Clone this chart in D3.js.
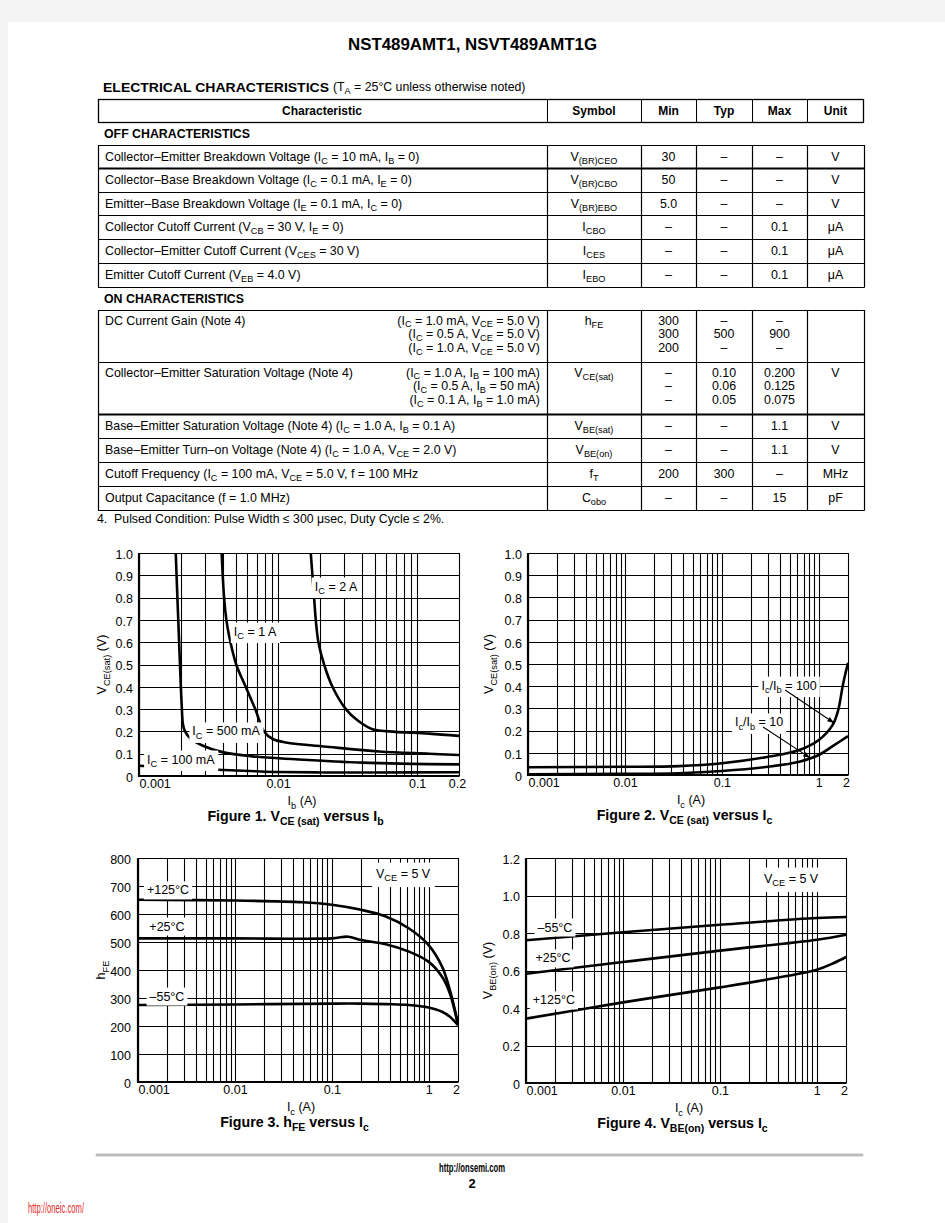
<!DOCTYPE html>
<html><head><meta charset="utf-8">
<script src="https://cdn.jsdelivr.net/npm/d3@7"></script>
<style>
html,body{margin:0;padding:0;background:#f3f3f3;}
svg{display:block;}
text{font-family:"Liberation Sans",Arial,Helvetica,sans-serif;white-space:pre;fill:#000;}
</style></head><body>
<svg id="page" width="945" height="1223"></svg>
<script>
// ---------------- TABLE DATA ----------------
const offChar = [
 "Collector–Emitter Breakdown Voltage (I_{C} = 10 mA, I_{B} = 0)",
 "Collector–Base Breakdown Voltage (I_{C} = 0.1 mA, I_{E} = 0)",
 "Emitter–Base Breakdown Voltage (I_{E} = 0.1 mA, I_{C} = 0)",
 "Collector Cutoff Current (V_{CB} = 30 V, I_{E} = 0)",
 "Collector–Emitter Cutoff Current (V_{CES} = 30 V)",
 "Emitter Cutoff Current (V_{EB} = 4.0 V)"];
const offSym = ["V_{(BR)CEO}","V_{(BR)CBO}","V_{(BR)EBO}","I_{CBO}","I_{CES}","I_{EBO}"];
const offMin = ["30","50","5.0","–","–","–"];
const offTyp = ["–","–","–","–","–","–"];
const offMax = ["–","–","–","0.1","0.1","0.1"];
const offUnit = ["V","V","V","μA","μA","μA"];

const onChar = ["DC Current Gain (Note 4)","Collector–Emitter Saturation Voltage (Note 4)",
 "Base–Emitter Saturation Voltage (Note 4) (I_{C} = 1.0 A, I_{B} = 0.1 A)",
 "Base–Emitter Turn–on Voltage (Note 4) (I_{C} = 1.0 A, V_{CE} = 2.0 V)",
 "Cutoff Frequency (I_{C} = 100 mA, V_{CE} = 5.0 V, f = 100 MHz",
 "Output Capacitance (f = 1.0 MHz)"];
const onCond = [["(I_{C} = 1.0 mA, V_{CE} = 5.0 V)","(I_{C} = 0.5 A, V_{CE} = 5.0 V)","(I_{C} = 1.0 A, V_{CE} = 5.0 V)"],
 ["(I_{C} = 1.0 A, I_{B} = 100 mA)","(I_{C} = 0.5 A, I_{B} = 50 mA)","(I_{C} = 0.1 A, I_{B} = 1.0 mA)"],[],[],[],[]];
const onSym = ["h_{FE}","V_{CE(sat)}","V_{BE(sat)}","V_{BE(on)}","f_{T}","C_{obo}"];
const onMin = [["300","300","200"],["–","–","–"],["–"],["–"],["200"],["–"]];
const onTyp = [["–","500","–"],["0.10","0.06","0.05"],["–"],["–"],["300"],["–"]];
const onMax = [["–","900","–"],["0.200","0.125","0.075"],["1.1"],["1.1"],["–"],["15"]];
const onUnit = [[""],["V"],["V"],["V"],["MHz"],["pF"]];

// ---------------- FIGURE 1 DATA: VCE(sat) vs Ib ----------------
const f1Labels = ["0.001","0.01","0.1","0.2"];
const f1YTicks = [0,0.1,0.2,0.3,0.4,0.5,0.6,0.7,0.8,0.9,1.0];
const f1Ib_2A   = [0.01718,0.01766,0.01816,0.01867,0.0195,0.02143,0.0246,0.0307,0.0372,0.0477,0.0629,0.122,0.2];
const f1V_2A    = [1.0,0.9,0.8,0.7,0.6,0.5,0.4,0.3,0.25,0.21,0.2,0.19,0.18];
const f1Ib_1A   = [0.00393,0.00409,0.00425,0.00444,0.00500,0.00585,0.00685,0.00793,0.0091,0.01135,0.0233,0.0533,0.122,0.2];
const f1V_1A    = [1.0,0.8,0.7,0.63,0.5,0.4,0.3,0.2,0.167,0.15,0.13,0.11,0.1,0.094];
const f1Ib_500  = [0.001837,0.00194,0.002027,0.002073,0.002142,0.002353,0.002855,0.003977,0.006537,0.0134,0.0404,0.2];
const f1V_500   = [1.0,0.61,0.32,0.23,0.2,0.167,0.137,0.107,0.088,0.075,0.06,0.052];
const f1Ib_100  = [0.001,0.002,0.004,0.007,0.01,0.02,0.05,0.2];
const f1V_100   = [0.046,0.036,0.027,0.021,0.018,0.016,0.016,0.017];

// ---------------- FIGURE 2 DATA: VCE(sat) vs Ic ----------------
const f2Labels = ["0.001","0.01","0.1","1","2"];
const f2YTicks = f1YTicks;
const f2Ic_100 = [0.001,0.01,0.036,0.1,0.31,0.63,1.0,1.39,1.58,1.78,2.0];
const f2V_100  = [0.035,0.037,0.04,0.053,0.083,0.113,0.158,0.226,0.29,0.41,0.505];
const f2Ic_10  = [0.001,0.01,0.036,0.1,0.31,0.63,1.0,1.39,2.0];
const f2V_10   = [0.003,0.005,0.008,0.018,0.038,0.06,0.09,0.13,0.175];

// ---------------- FIGURE 3 DATA: hFE vs Ic ----------------
const f3Labels = ["0.001","0.01","0.1","1","2"];
const f3YTicks = [0,100,200,300,400,500,600,700,800];
const f3Ic_125 = [0.001,0.01,0.05,0.1,0.2,0.36,0.62,0.99,1.37,1.65,2.0];
const f3H_125  = [651,648,642,633,615,591,549,490,412,328,209];
const f3Ic_25  = [0.001,0.01,0.1,0.147,0.2,0.36,0.62,0.99,1.37,1.65,2.0];
const f3H_25   = [513,513,513,519,507,492,466,430,376,316,203];
const f3Ic_m55 = [0.001,0.01,0.1,0.2,0.36,0.62,0.99,1.37,1.65,2.0];
const f3H_m55  = [275,277,280,280,278,275,266,251,233,203];

// ---------------- FIGURE 4 DATA: VBE(on) vs Ic ----------------
const f4Labels = ["0.001","0.01","0.1","1","2"];
const f4YTicks = [0,0.2,0.4,0.6,0.8,1.0,1.2];
const f4Ic_m55 = [0.001,0.01,0.1,1,2];
const f4V_m55  = [0.761,0.804,0.844,0.88,0.885];
const f4Ic_25  = [0.001,0.01,0.1,1,2];
const f4V_25   = [0.583,0.645,0.706,0.764,0.791];
const f4Ic_125 = [0.001,0.01,0.1,0.3,1,1.5,2];
const f4V_125  = [0.343,0.43,0.51,0.551,0.604,0.64,0.672];

// ---------------- HELPERS ----------------
const svg = d3.select('#page');
svg.append('rect').attr('x',8).attr('y',22).attr('width',937).attr('height',1201).attr('fill','#fff');
svg.append('defs').append('marker').attr('id','arr').attr('viewBox','0 0 10 10')
  .attr('refX',10).attr('refY',5).attr('markerWidth',7).attr('markerHeight',7)
  .attr('markerUnits','userSpaceOnUse').attr('orient','auto')
  .append('path').attr('d','M0,1.5 L10,5 L0,8.5 Z').attr('fill','#000');

// multi-line rich text in ONE text element; "_{..}" marks a subscript
function richLines(g,x,y,lines,size,anchor,weight,lh,subShift){
  const sh = (subShift||0.28)*size;
  const t = g.append('text').attr('font-size',size).attr('text-anchor',anchor||'start')
    .attr('font-weight',weight||'normal');
  lines.forEach((ln,j)=>{
    const parts = String(ln).split(/(_\{[^}]*\})/).filter(p=>p!=='');
    let sub=false;
    parts.forEach((p,k)=>{
      const s = t.append('tspan');
      if(k===0) s.attr('x',x).attr('y',y+j*(lh||0));
      if(p.startsWith('_{')){ s.attr('font-size',size*0.74).attr('dy',sh).text(p.slice(2,-1)); sub=true; }
      else { s.text(p); if(sub){ s.attr('dy',-sh); sub=false; } }
    });
  });
  return t;
}
function txt(g,x,y,str,size,anchor,weight){ return richLines(g,x,y,[str],size,anchor,weight,0); }
function hline(g,x1,x2,y,w){ g.append('line').attr('x1',x1).attr('x2',x2).attr('y1',y).attr('y2',y).attr('stroke','#000').attr('stroke-width',w||1); }
function vline(g,x,y1,y2,w){ g.append('line').attr('x1',x).attr('x2',x).attr('y1',y1).attr('y2',y2).attr('stroke','#000').attr('stroke-width',w||1); }

// ---------------- HEADER ----------------
svg.append('text').attr('x',472.5).attr('y',50).attr('text-anchor','middle').attr('font-size',16)
  .attr('font-weight','bold').attr('textLength',249).attr('lengthAdjust','spacingAndGlyphs').text('NST489AMT1, NSVT489AMT1G');
svg.append('text').attr('x',103).attr('y',92).attr('font-size',13).attr('font-weight','bold')
  .attr('textLength',226).attr('lengthAdjust','spacingAndGlyphs').text('ELECTRICAL CHARACTERISTICS');
txt(svg,333,91,'(T_{A} = 25°C unless otherwise noted)',12.3);

// ---------------- TABLE ----------------
const T = svg.append('g');
const colX = [98,547,641,696,752,807,864];
const colC = [0,594,668.5,724,779.5,835.5];
const FS = 12.4, LH = 13.8;
T.append('rect').attr('x',98.5).attr('y',99.5).attr('width',765).attr('height',23).attr('fill','none').attr('stroke','#000').attr('stroke-width',1.3);
colX.slice(1,6).forEach(x=>vline(T,x+0.5,99.5,122.5));
['Characteristic','Symbol','Min','Typ','Max','Unit'].forEach((h,i)=>{
  txt(T, i===0?322:colC[i], 114.5, h, 12, 'middle','bold');
});
T.append('text').attr('x',104).attr('y',138).attr('font-size',12).attr('font-weight','bold')
  .attr('textLength',146).attr('lengthAdjust','spacingAndGlyphs').text('OFF CHARACTERISTICS');
const offEdges = [145,168,192,215,239,263,287];
offChar.forEach((c,i)=>{
  const yc = (offEdges[i]+offEdges[i+1])/2 + 4;
  txt(T,105,yc,c,FS);
  txt(T,colC[1],yc,offSym[i],FS,'middle');
  txt(T,colC[2],yc,offMin[i],FS,'middle');
  txt(T,colC[3],yc,offTyp[i],FS,'middle');
  txt(T,colC[4],yc,offMax[i],FS,'middle');
  txt(T,colC[5],yc,offUnit[i],FS,'middle');
});
offEdges.forEach((y,i)=>hline(T,98,864.5,y+0.5,i===1?2:1.2));
colX.forEach(x=>vline(T,x+0.5,145,287.5,1.2));

T.append('text').attr('x',104).attr('y',303).attr('font-size',12).attr('font-weight','bold')
  .attr('textLength',140).attr('lengthAdjust','spacingAndGlyphs').text('ON CHARACTERISTICS');
const onEdges = [310,362,414,438,462,486,510];
onChar.forEach((c,i)=>{
  const y0 = onEdges[i], y1 = onEdges[i+1];
  const multi = onCond[i].length>0;
  const first = multi ? y0+14.5 : (y0+y1)/2+4;
  txt(T,105,first,c,FS);
  if(multi) richLines(T,540,first,onCond[i],FS,'end','normal',LH,0.2);
  txt(T,colC[1],first,onSym[i],FS,'middle');
  [onMin,onTyp,onMax,onUnit].forEach((arr,k)=>{
    richLines(T,colC[k+2],first,arr[i],FS,'middle','normal',LH);
  });
});
onEdges.forEach((y,i)=>hline(T,98,864.5,y+0.5,i===2?2:1.2));
colX.forEach(x=>vline(T,x+0.5,310,510.5,1.2));
txt(svg,97,523,'4.  Pulsed Condition: Pulse Width ≤ 300 μsec, Duty Cycle ≤ 2%.',12.3);

// ---------------- CHARTS ----------------
function logGrid(lo,hi){
  const out=[];
  for(let k=Math.floor(Math.log10(lo)); k<=Math.ceil(Math.log10(hi)); k++){
    for(let i=1;i<=9;i++){ const v=+(i*Math.pow(10,k)).toPrecision(6); if(v>=lo*0.9999 && v<=hi*1.0001) out.push(v); }
  }
  return out;
}
function drawChart(c){
  const g = svg.append('g');
  const x = d3.scaleLog().domain(c.xDomain).range([c.left,c.right]);
  const y = d3.scaleLinear().domain(c.yDomain).range([c.bottom,c.top]);
  const xr = x.copy().interpolate(d3.interpolateRound);
  const yr = y.copy().interpolate(d3.interpolateRound);
  const H = c.bottom-c.top, W = c.right-c.left;
  g.append('g').attr('transform',`translate(0,${c.bottom})`)
    .call(d3.axisBottom(xr).tickValues(logGrid(c.xDomain[0],c.xDomain[1])).tickSize(-H).tickFormat(''))
    .call(a=>{a.select('.domain').remove(); a.selectAll('line').attr('stroke','#000').attr('stroke-width',1.1);});
  g.append('g').attr('transform',`translate(${c.left},0)`)
    .call(d3.axisLeft(yr).tickValues(c.yTicks).tickSize(-W).tickFormat(''))
    .call(a=>{a.select('.domain').remove(); a.selectAll('line').attr('stroke','#000').attr('stroke-width',1.1);});
  vline(g,c.left,c.top,c.bottom+1,2.2);
  hline(g,c.left-1,c.right+0.5,c.bottom,2.2);
  g.append('g').attr('transform',`translate(${c.left},0)`)
    .call(d3.axisLeft(y).tickValues(c.yTicks).tickSize(0).tickPadding(c.yPad||6).tickFormat(c.yFmt))
    .call(a=>{a.select('.domain').remove(); a.selectAll('text').attr('font-size',12.5).attr('dy','0.42em')
      .attr('font-family','"Liberation Sans",Arial,sans-serif');});
  g.append('g').attr('transform',`translate(0,${c.bottom})`)
    .call(d3.axisBottom(x).tickValues(c.xLabels.map(Number)).tickSize(0).tickPadding(3).tickFormat((d,i)=>c.xLabels[i]))
    .call(a=>{a.select('.domain').remove(); a.selectAll('text').attr('font-size',12.5)
      .attr('font-family','"Liberation Sans",Arial,sans-serif')
      .attr('text-anchor',(d,i)=>i===0?'start':'middle');
      a.selectAll('.tick').filter((d,i)=>i===c.xLabels.length-1).select('text').attr('dx',-2);});
  txt(g,(c.left+c.right)/2+3,c.bottom+29,c.xTitle,12.5,'middle');
  const yt = g.append('g').attr('transform',`translate(${c.left-c.yTitleOff},${(c.top+c.bottom)/2}) rotate(-90)`);
  txt(yt,0,0,c.yTitle,12.5,'middle');
  txt(g,(c.left+c.right)/2-3.5,c.bottom+45,c.title,14.2,'middle','bold');
  const clipId = 'clip'+c.id;
  g.append('clipPath').attr('id',clipId).append('rect').attr('x',c.left).attr('y',c.top-1).attr('width',W+1).attr('height',H+1);
  const line = d3.line().x(d=>x(d[0])).y(d=>y(d[1])).curve(d3.curveCatmullRom.alpha(0.5));
  const cg = g.append('g').attr('clip-path',`url(#${clipId})`);
  c.series.forEach(s=>{
    cg.append('path').datum(d3.zip(s.x,s.y)).attr('d',line).attr('fill','none')
      .attr('stroke','#000').attr('stroke-width',2.6).attr('stroke-linejoin','round');
  });
  (c.labels||[]).forEach(l=>{
    const lg = g.append('g');
    const t = txt(lg,x(l.x),y(l.y)+4.5,l.text,12.5,'middle');
    const bb = t.node().getBBox();
    lg.insert('rect',()=>t.node()).attr('x',bb.x-(l.padX||3)).attr('y',bb.y-(l.padY||2))
      .attr('width',bb.width+2*(l.padX||3)).attr('height',bb.height+2*(l.padY||2)).attr('fill','#fff');
  });
  (c.arrows||[]).forEach(a=>{
    g.append('line').attr('x1',x(a.x1)).attr('y1',y(a.y1)).attr('x2',x(a.x2)).attr('y2',y(a.y2))
      .attr('stroke','#000').attr('stroke-width',1.1).attr('marker-end','url(#arr)');
  });
}

const fmt1 = d=> d===0 ? '0' : d.toFixed(1);

drawChart({id:1,left:139,right:459,top:553,bottom:776,xDomain:[0.001,0.2],yDomain:[0,1],
  yTicks:f1YTicks,yFmt:fmt1,xLabels:f1Labels,xTitle:'I_{b} (A)',yTitle:'V_{CE(sat)} (V)',yTitleOff:33,
  title:'Figure 1. V_{CE (sat)} versus I_{b}',
  series:[{x:f1Ib_2A,y:f1V_2A},{x:f1Ib_1A,y:f1V_1A},{x:f1Ib_500,y:f1V_500},{x:f1Ib_100,y:f1V_100}],
  labels:[{x:0.0261,y:0.852,text:'I_{C} = 2 A'},{x:0.00683,y:0.650,text:'I_{C} = 1 A'},
          {x:0.00423,y:0.202,text:'I_{C} = 500 mA',padY:0},{x:0.0020,y:0.076,text:'I_{C} = 100 mA',padY:0}]});

drawChart({id:2,left:528,right:848,top:553,bottom:775,xDomain:[0.001,2],yDomain:[0,1],
  yTicks:f2YTicks,yFmt:fmt1,xLabels:f2Labels,xTitle:'I_{c} (A)',yTitle:'V_{CE(sat)} (V)',yTitleOff:35,
  title:'Figure 2. V_{CE (sat)} versus I_{c}',
  series:[{x:f2Ic_100,y:f2V_100},{x:f2Ic_10,y:f2V_10}],
  labels:[{x:0.494,y:0.405,text:'I_{c}/I_{b} = 100'},{x:0.242,y:0.239,text:'I_{c}/I_{b} = 10'}],
  arrows:[{x1:0.449,y1:0.383,x2:1.44,y2:0.234},{x1:0.266,y1:0.216,x2:0.813,y2:0.077}]});

drawChart({id:3,left:138,right:458,top:858,bottom:1082,xDomain:[0.001,2],yDomain:[0,800],
  yTicks:f3YTicks,yFmt:d=>String(d),xLabels:f3Labels,xTitle:'I_{c} (A)',yTitle:'h_{FE}',yTitleOff:33,yPad:7,
  title:'Figure 3. h_{FE} versus I_{c}',
  series:[{x:f3Ic_125,y:f3H_125},{x:f3Ic_25,y:f3H_25},{x:f3Ic_m55,y:f3H_m55}],
  labels:[{x:0.00204,y:686,text:'+125°C'},{x:0.00199,y:557,text:'+25°C'},{x:0.00199,y:307,text:'–55°C'},
          {x:0.543,y:746,text:'V_{CE} = 5 V',padX:4,padY:4}]});

drawChart({id:4,left:526,right:846,top:858,bottom:1083,xDomain:[0.001,2],yDomain:[0,1.2],
  yTicks:f4YTicks,yFmt:fmt1,xLabels:f4Labels,xTitle:'I_{c} (A)',yTitle:'V_{BE(on)} (V)',yTitleOff:34,
  title:'Figure 4. V_{BE(on)} versus I_{c}',
  series:[{x:f4Ic_m55,y:f4V_m55},{x:f4Ic_25,y:f4V_25},{x:f4Ic_125,y:f4V_125}],
  labels:[{x:0.00199,y:0.832,text:'–55°C'},{x:0.0019,y:0.667,text:'+25°C'},{x:0.00194,y:0.443,text:'+125°C'},
          {x:0.543,y:1.093,text:'V_{CE} = 5 V',padX:4,padY:4}]});

// ---------------- FOOTER ----------------
svg.append('line').attr('x1',97).attr('x2',862).attr('y1',1155).attr('y2',1155).attr('stroke','#bdbdbd').attr('stroke-width',3).attr('stroke-linecap','round');
svg.append('text').attr('x',472).attr('y',1172).attr('text-anchor','middle').attr('font-size',13.5).attr('font-weight','bold')
  .attr('textLength',66).attr('lengthAdjust','spacingAndGlyphs').text('http://onsemi.com');
svg.append('text').attr('x',472).attr('y',1188).attr('text-anchor','middle').attr('font-size',13).attr('font-weight','bold').text('2');
svg.append('text').attr('x',28).attr('y',1213).attr('font-size',14).style('fill','#e0292b')
  .attr('textLength',56).attr('lengthAdjust','spacingAndGlyphs').text('http://oneic.com/');
</script>
</body></html>
